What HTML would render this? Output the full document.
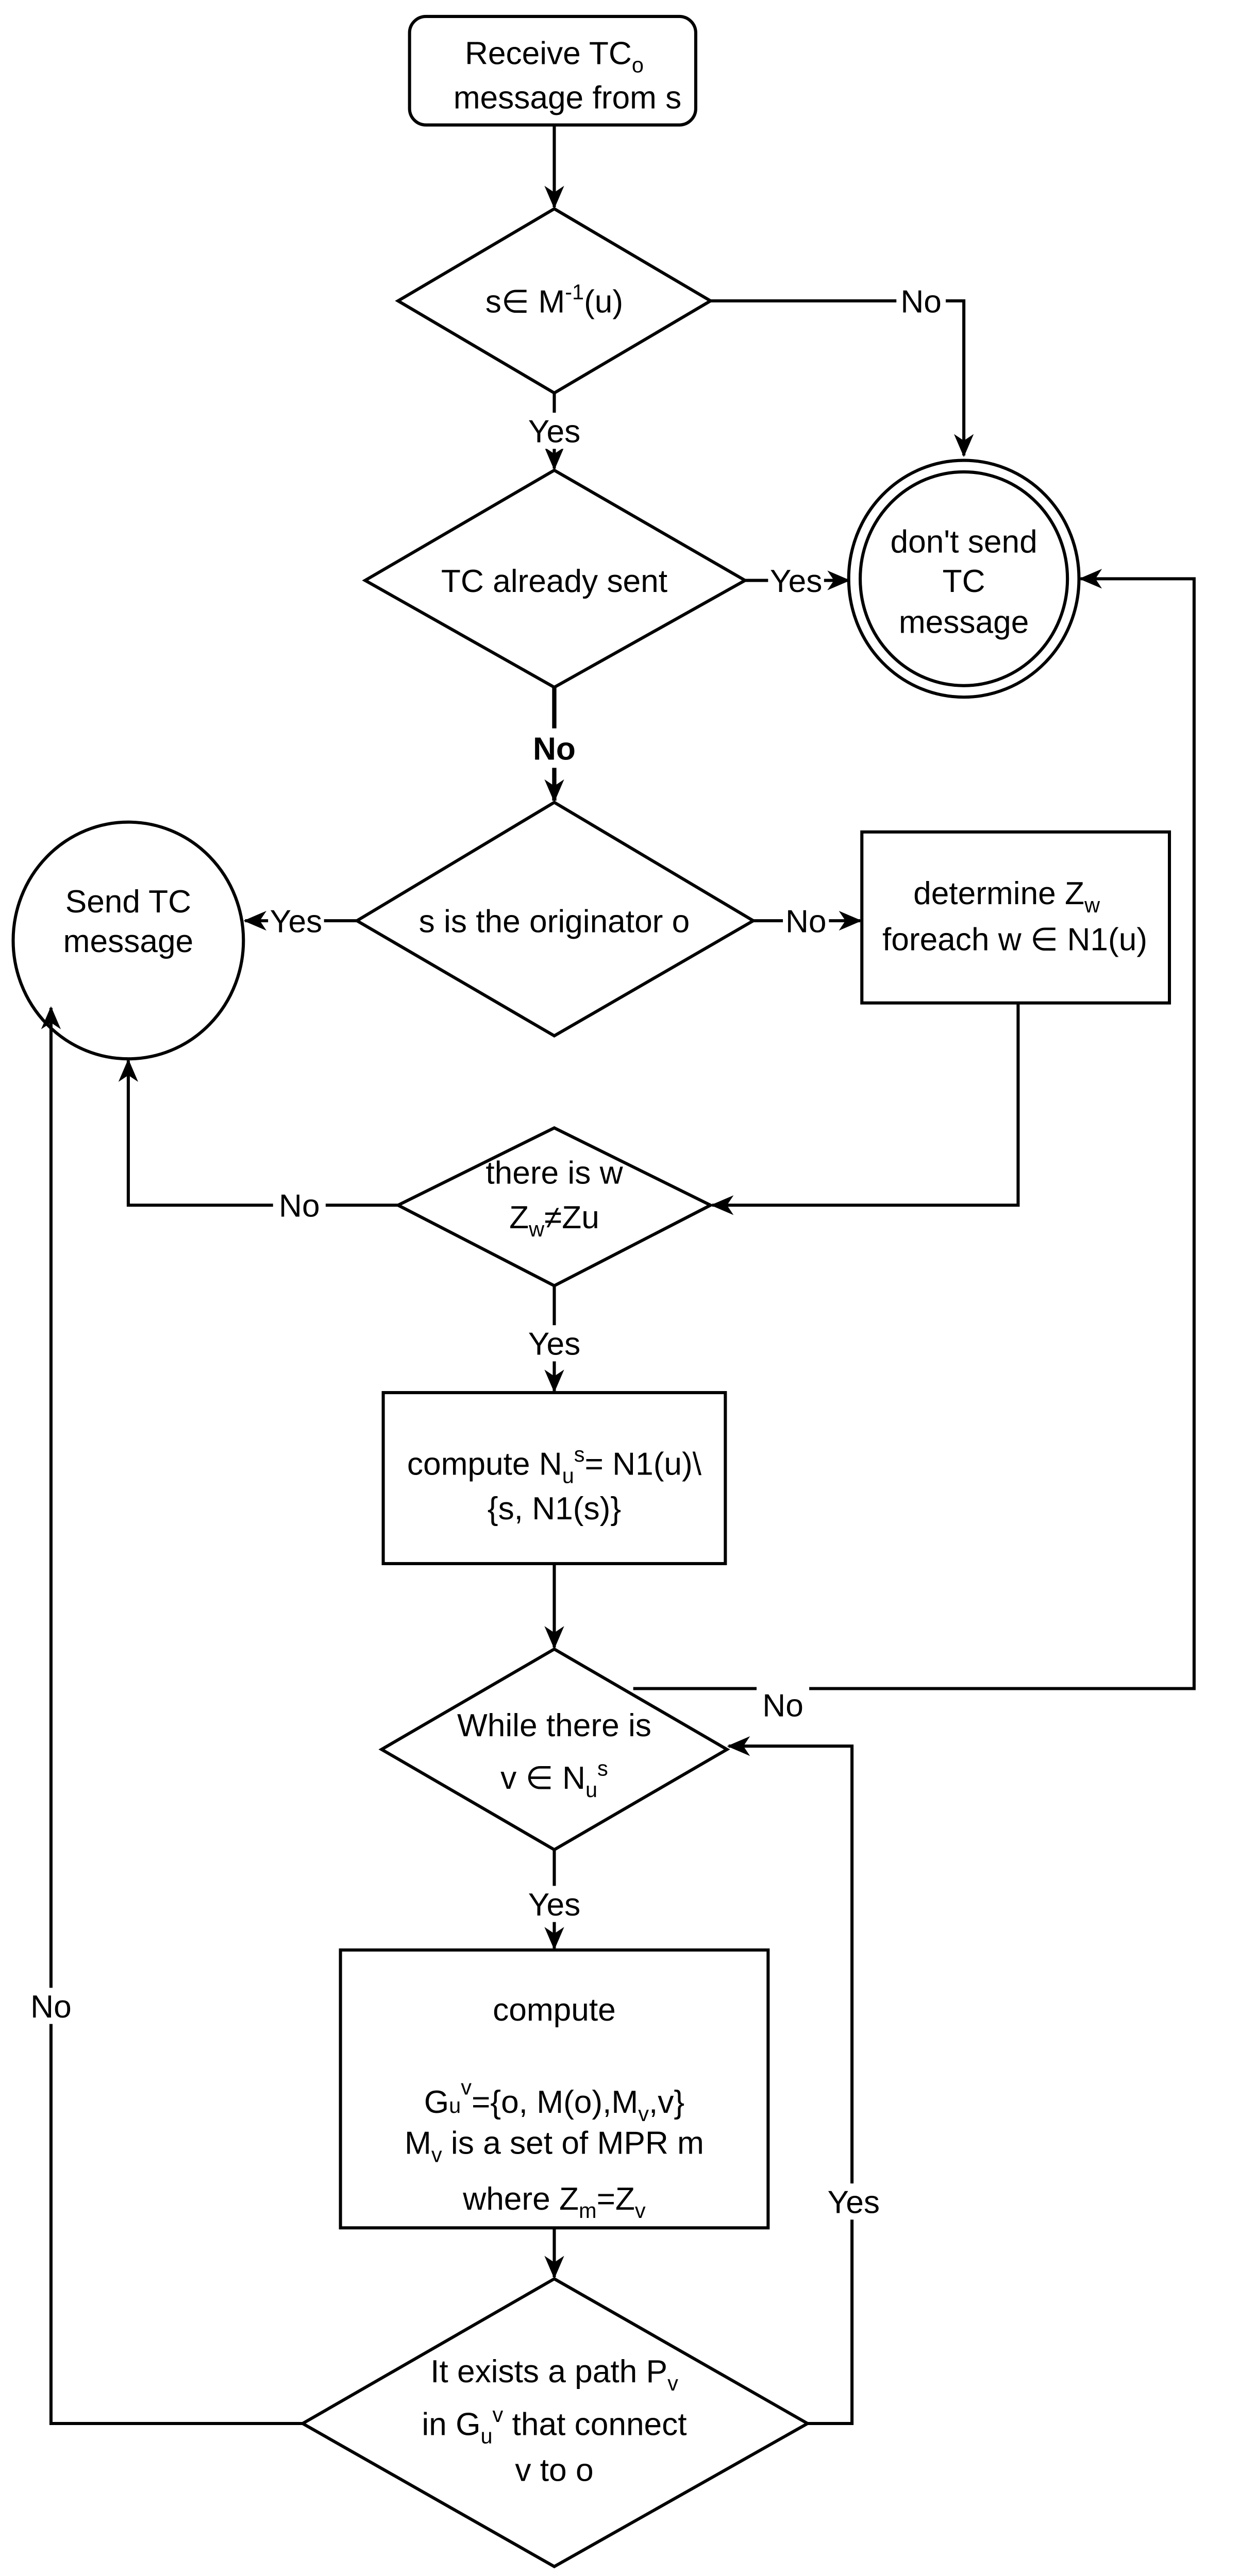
<!DOCTYPE html>
<html><head><meta charset="utf-8"><style>
html,body{margin:0;padding:0;background:#fff;overflow:hidden}
svg{display:block}
text{font-family:"Liberation Sans",sans-serif;font-size:19.5px;fill:#000;text-anchor:middle}
.s{font-size:13px}
</style></head><body>
<svg width="2404" height="5109" viewBox="0 0 753.3 1600.9" preserveAspectRatio="none" xmlns="http://www.w3.org/2000/svg">
<defs>
<marker id="a" markerWidth="14" markerHeight="14" refX="13" refY="7" orient="auto" markerUnits="userSpaceOnUse">
<path d="M0,1 L14,7 L0,13 L4,7 z" fill="#000"/>
</marker>
</defs>
<g fill="none" stroke="#000" stroke-width="1.9">
<rect x="249" y="10" width="174" height="66" rx="10"/>
<polygon points="337,127 432,183 337,239 242,183"/>
<polygon points="337,286 453,353 337,418 222,353"/>
<ellipse cx="586" cy="352" rx="70" ry="72"/>
<ellipse cx="586" cy="352" rx="63" ry="65"/>
<polygon points="337,488 458,560 337,630 217,560"/>
<ellipse cx="78" cy="572" rx="70" ry="72"/>
<rect x="524" y="506" width="187" height="104"/>
<polygon points="337,686 432,733 337,782 242,733"/>
<rect x="233" y="847" width="208" height="104"/>
<polygon points="337,1003 442,1064 337,1125 232,1064"/>
<rect x="207" y="1186" width="260" height="169"/>
<polygon points="337,1386 491,1474 337,1561 184,1474"/>
<path d="M337,76 V126" marker-end="url(#a)"/>
<path d="M432,183 H586 V277" marker-end="url(#a)"/>
<path d="M337,239 V285" marker-end="url(#a)"/>
<path d="M453,353 H516" marker-end="url(#a)"/>
<path d="M337,418 V487" marker-end="url(#a)" stroke-width="2.6"/>
<path d="M217,560 H149" marker-end="url(#a)"/>
<path d="M458,560 H523" marker-end="url(#a)"/>
<path d="M619,610 V733 H433" marker-end="url(#a)"/>
<path d="M242,733 H78 V645" marker-end="url(#a)"/>
<path d="M337,782 V846" marker-end="url(#a)"/>
<path d="M337,951 V1002" marker-end="url(#a)"/>
<path d="M385,1027 H726 V352 H657" marker-end="url(#a)"/>
<path d="M337,1125 V1185" marker-end="url(#a)"/>
<path d="M337,1355 V1385" marker-end="url(#a)"/>
<path d="M491,1474 H518 V1062 H443" marker-end="url(#a)"/>
<path d="M184,1474 H31 V613" marker-end="url(#a)"/>
</g>
<g fill="#fff">
<rect x="545" y="172" width="30" height="22"/>
<rect x="320" y="251" width="34" height="22"/>
<rect x="467" y="342" width="34" height="22"/>
<rect x="320" y="443" width="34" height="24"/>
<rect x="163" y="549" width="34" height="22"/>
<rect x="476" y="549" width="28" height="22"/>
<rect x="166" y="722" width="32" height="22"/>
<rect x="320" y="806" width="34" height="22"/>
<rect x="460" y="1026" width="32" height="22"/>
<rect x="320" y="1147" width="34" height="22"/>
<rect x="500" y="1328" width="38" height="22"/>
<rect x="16" y="1209" width="32" height="22"/>
</g>
<text x="337" y="39">Receive TC<tspan class="s" dy="5">o</tspan></text>
<text x="345" y="66">message from s</text>
<text x="337" y="190">s∈ M<tspan class="s" dy="-8">-1</tspan><tspan dy="8">(u)</tspan></text>
<text x="560" y="190">No</text>
<text x="337" y="269">Yes</text>
<text x="337" y="360">TC already sent</text>
<text x="484" y="360">Yes</text>
<text x="586" y="336">don't send</text>
<text x="586" y="360">TC</text>
<text x="586" y="385">message</text>
<text x="337" y="462" style="font-weight:bold">No</text>
<text x="337" y="567">s is the originator o</text>
<text x="180" y="567">Yes</text>
<text x="490" y="567">No</text>
<text x="78" y="555">Send TC</text>
<text x="78" y="579">message</text>
<text x="612" y="550">determine Z<tspan class="s" dy="5">w</tspan></text>
<text x="617" y="578">foreach w ∈ N1(u)</text>
<text x="337" y="720">there is w</text>
<text x="337" y="747">Z<tspan class="s" dy="5">w</tspan><tspan dy="-5">≠Zu</tspan></text>
<text x="182" y="740">No</text>
<text x="337" y="824">Yes</text>
<text x="337" y="897">compute N<tspan class="s" dy="5">u</tspan><tspan class="s" dy="-13">s</tspan><tspan dy="8">= N1(u)\</tspan></text>
<text x="337" y="924">{s, N1(s)}</text>
<text x="337" y="1056">While there is</text>
<text x="337" y="1088">v ∈ N<tspan class="s" dy="5">u</tspan><tspan class="s" dy="-13">s</tspan></text>
<text x="476" y="1044">No</text>
<text x="337" y="1165">Yes</text>
<text x="337" y="1229">compute</text>
<text x="337" y="1285">G<tspan class="s">u</tspan><tspan class="s" dy="-11">v</tspan><tspan dy="11">={o, M(o),M</tspan><tspan class="s" dy="5">v</tspan><tspan dy="-5">,v}</tspan></text>
<text x="337" y="1310">M<tspan class="s" dy="5">v</tspan><tspan dy="-5"> is a set of MPR m</tspan></text>
<text x="337" y="1344">where Z<tspan class="s" dy="5">m</tspan><tspan dy="-5">=Z</tspan><tspan class="s" dy="5">v</tspan></text>
<text x="519" y="1346">Yes</text>
<text x="31" y="1227">No</text>
<text x="337" y="1449">It exists a path  P<tspan class="s" dy="5">v</tspan></text>
<text x="337" y="1481">in G<tspan class="s" dy="5">u</tspan><tspan class="s" dy="-13">v</tspan><tspan dy="8"> that connect</tspan></text>
<text x="337" y="1509">v to o</text>
</svg>
</body></html>
